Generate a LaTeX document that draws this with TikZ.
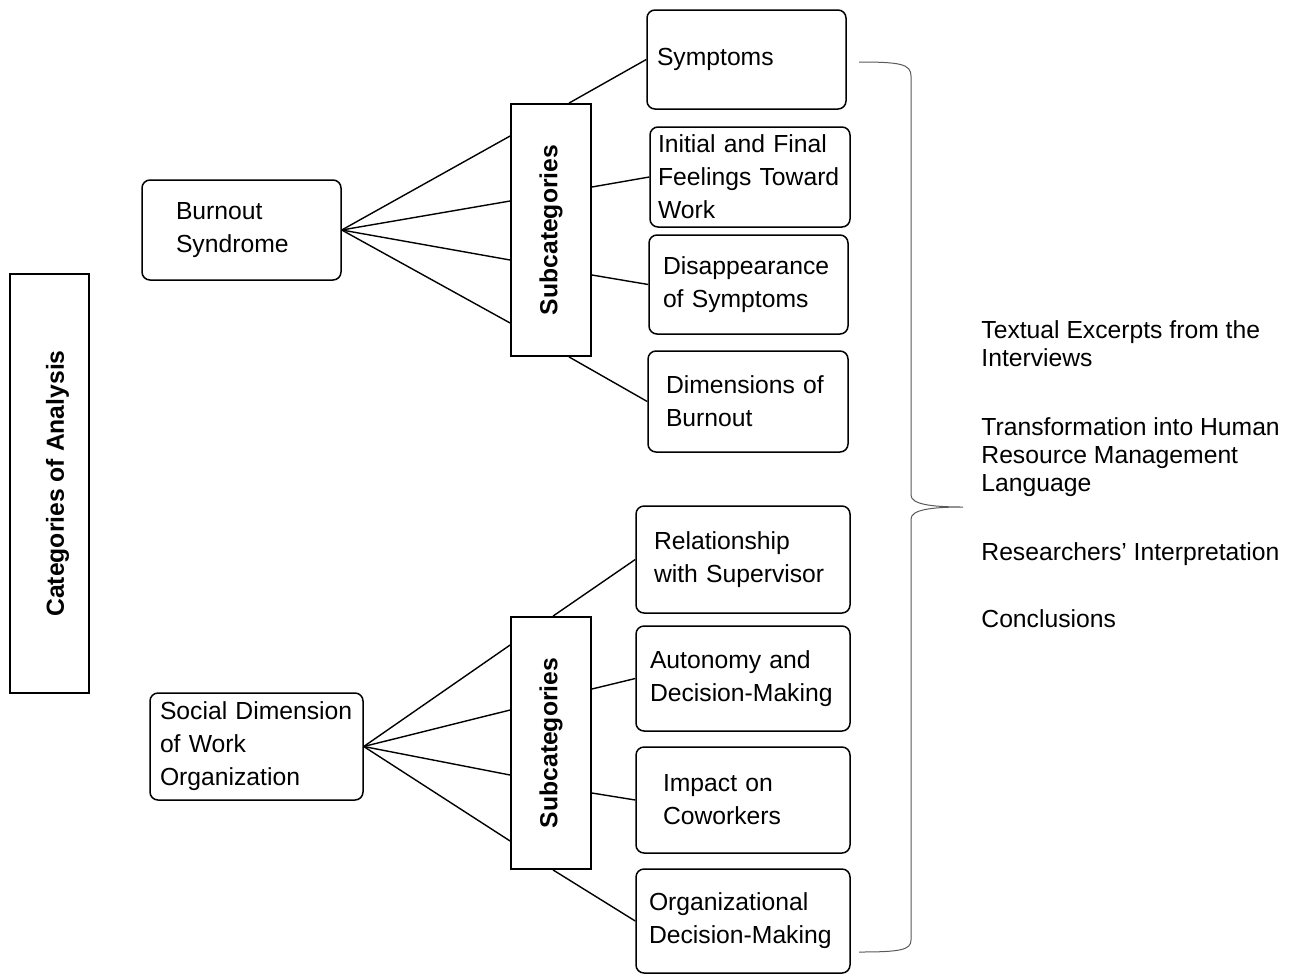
\documentclass[tikz,border=0pt]{standalone}
\usepackage{fontspec}
\setmainfont{Liberation Sans}
\usepackage{tikz}

\begin{document}
\begin{tikzpicture}[x=0.5pt, y=-0.5pt,
  every node/.style={font=\fontsize{12.35}{16.5}\selectfont},
  main node/.style={draw, line width=0.75pt, rounded corners=4pt, align=left, inner ysep=1pt},
  sub node/.style={draw, line width=0.9pt, minimum width=40pt, minimum height=126pt, inner sep=0pt,
    font=\fontsize{12.35}{16.5}\selectfont\bfseries},
  note/.style={anchor=north west, align=left, inner sep=0pt, font=\fontsize{12.35}{14}\selectfont},
  every edge/.style={draw, line width=0.7pt}]
\useasboundingbox (0,0) rectangle (1294,975);

\node[draw, line width=0.9pt, minimum width=39.5pt, minimum height=209.5pt, inner sep=0pt,
  font=\fontsize{12.35}{16.5}\selectfont\bfseries] (cat) at (49.5,483.5)
  {\hspace{8pt}\rotatebox{90}{Categories of Analysis}};

% burnout branch
\node[main node, inner xsep=17pt, text width=65.5pt, minimum height=50pt] (burn) at (241.5,230) {Burnout\\Syndrome};
\node[sub node] (sub1) at (551,230) {\rotatebox{90}{Subcategories}};
\node[main node, inner xsep=5pt, text width=89.5pt, minimum height=49.5pt] (sym) at (746.5,59.5) {Symptoms};
\node[main node, inner xsep=4pt, text width=92pt, minimum height=50pt] (feel) at (750,177) {Initial and Final\\Feelings Toward\\Work};
\node[main node, inner xsep=7pt, text width=85.5pt, minimum height=49.5pt] (dis) at (748.5,284.5) {Disappearance\\of Symptoms};
\node[main node, inner xsep=9pt, text width=82pt, minimum height=50.5pt] (dim) at (748,401.5) {Dimensions of\\Burnout};

% social branch
\node[main node, inner xsep=5pt, text width=96.5pt, minimum height=53.5pt] (soc) at (256.5,746.5) {Social Dimension\\of Work\\Organization};
\node[sub node] (sub2) at (551,743) {\rotatebox{90}{Subcategories}};
\node[main node, inner xsep=9pt, text width=89pt, minimum height=53.5pt] (rel) at (743,559.5) {Relationship\\with Supervisor};
\node[main node, inner xsep=7pt, text width=93pt, minimum height=52.5pt] (aut) at (743,678.5) {Autonomy and\\Decision-Making};
\node[main node, inner xsep=13.5pt, text width=80pt, minimum height=53pt] (imp) at (743,800) {Impact on\\Coworkers};
\node[main node, inner xsep=6.5pt, text width=94pt, minimum height=52pt] (org) at (743,921) {Organizational\\Decision-Making};

% notes on the right
\node[note] (txt) at (981,320) {Textual Excerpts from the\\Interviews};
\node[note] (hrm) at (981,417) {Transformation into Human\\Resource Management\\Language};
\node[note] (res) at (981,542) {Researchers’ Interpretation};
\node[note] (con) at (981,609) {Conclusions};

\path
(burn.east) edge ([yshift=47pt]sub1.west)
            edge ([yshift=14.5pt]sub1.west)
            edge ([yshift=-15pt]sub1.west)
            edge ([yshift=-46.5pt]sub1.west)
([xshift=9pt]sub1.north) edge (sym.west)
([yshift=21.5pt]sub1.east) edge (feel.west)
([yshift=-22.5pt]sub1.east) edge (dis.west)
([xshift=9pt]sub1.south) edge (dim.west)
(soc.east) edge ([yshift=49pt]sub2.west)
           edge ([yshift=16.5pt]sub2.west)
           edge ([yshift=-16pt]sub2.west)
           edge ([yshift=-49pt]sub2.west)
([xshift=1pt]sub2.north) edge (rel.west)
([yshift=27pt]sub2.east) edge (aut.west)
([yshift=-25pt]sub2.east) edge (imp.west)
([xshift=1pt]sub2.south) edge (org.west);

% brace
\draw[gray!70!black, line width=0.5pt] (859,62) .. controls (900,62) and (911,64) .. (911,76)
  -- (911,495) .. controls (911,504) and (930,507) .. (963,507)
  .. controls (930,507) and (911,510) .. (911,519)
  -- (911,940) .. controls (911,950) and (900,952) .. (859,952);
\end{tikzpicture}
\end{document}
